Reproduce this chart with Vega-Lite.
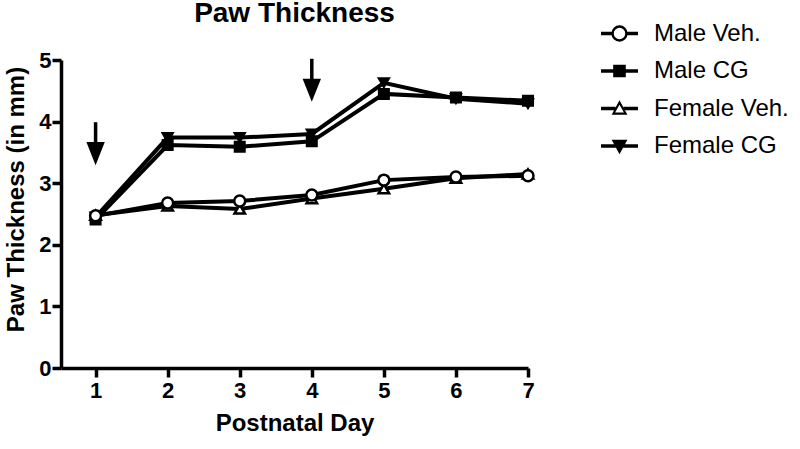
{
  "$schema": "https://vega.github.io/schema/vega-lite/v6.json",
  "width": 467,
  "height": 308,
  "autosize": {"type": "none"},
  "padding": {"left": 61, "top": 60, "right": 272, "bottom": 81},
  "background": "white",
  "config": {
    "view": {"stroke": null},
    "font": "Liberation Sans",
    "axis": {
      "domainColor": "black", "domainWidth": 3.5, "tickColor": "black", "tickWidth": 3.5,
      "tickSize": 9, "labelFont": "Liberation Sans", "labelFontWeight": "bold", "labelFontSize": 22,
      "labelColor": "black", "titleFont": "Liberation Sans", "titleFontWeight": "bold",
      "titleFontSize": 24, "titleColor": "black", "grid": false, "format": "d"
    }
  },
  "title": {"text": "Paw Thickness", "fontSize": 28, "fontWeight": "bold", "font": "Liberation Sans", "color": "black", "anchor": "middle", "offset": -14},
  "datasets": {
    "series": [
      {"day": 1, "series": "Male Veh.", "value": 2.47},
      {"day": 2, "series": "Male Veh.", "value": 2.68},
      {"day": 3, "series": "Male Veh.", "value": 2.71},
      {"day": 4, "series": "Male Veh.", "value": 2.81},
      {"day": 5, "series": "Male Veh.", "value": 3.05},
      {"day": 6, "series": "Male Veh.", "value": 3.10},
      {"day": 7, "series": "Male Veh.", "value": 3.12},
      {"day": 1, "series": "Male CG", "value": 2.41},
      {"day": 2, "series": "Male CG", "value": 3.62},
      {"day": 3, "series": "Male CG", "value": 3.59},
      {"day": 4, "series": "Male CG", "value": 3.68},
      {"day": 5, "series": "Male CG", "value": 4.45},
      {"day": 6, "series": "Male CG", "value": 4.39},
      {"day": 7, "series": "Male CG", "value": 4.34},
      {"day": 1, "series": "Female Veh.", "value": 2.48},
      {"day": 2, "series": "Female Veh.", "value": 2.63},
      {"day": 3, "series": "Female Veh.", "value": 2.58},
      {"day": 4, "series": "Female Veh.", "value": 2.75},
      {"day": 5, "series": "Female Veh.", "value": 2.91},
      {"day": 6, "series": "Female Veh.", "value": 3.08},
      {"day": 7, "series": "Female Veh.", "value": 3.15},
      {"day": 1, "series": "Female CG", "value": 2.45},
      {"day": 2, "series": "Female CG", "value": 3.74},
      {"day": 3, "series": "Female CG", "value": 3.74},
      {"day": 4, "series": "Female CG", "value": 3.80},
      {"day": 5, "series": "Female CG", "value": 4.63},
      {"day": 6, "series": "Female CG", "value": 4.37},
      {"day": 7, "series": "Female CG", "value": 4.29}
    ],
    "arrows": [
      {"day": 1, "top": 3.99, "head": 3.48, "shaftEnd": 3.55},
      {"day": 4, "top": 5.02, "head": 4.51, "shaftEnd": 4.58}
    ]
  },
  "encoding": {
    "x": {
      "field": "day", "type": "quantitative",
      "scale": {"domain": [0.52, 7], "nice": false, "zero": false},
      "axis": {"values": [1, 2, 3, 4, 5, 6, 7], "title": "Postnatal Day", "labelPadding": 3, "titlePadding": 10, "labelFlush": false}
    }
  },
  "layer": [
    {
      "data": {"name": "arrows"},
      "mark": {"type": "rule", "color": "black", "strokeWidth": 3.5},
      "encoding": {
        "y": {"field": "top", "type": "quantitative", "scale": {"domain": [0, 5], "nice": false},
          "axis": {"values": [0, 1, 2, 3, 4, 5], "title": "Paw Thickness (in mm)", "labelPadding": 1, "titlePadding": 10, "titleY": 139}},
        "y2": {"field": "shaftEnd"}
      }
    },
    {
      "data": {"name": "arrows"},
      "mark": {"type": "point", "shape": "M-0.8,-1L0.8,-1L0,1Z", "filled": true, "color": "black", "size": 530, "opacity": 1},
      "encoding": {"y": {"field": "head", "type": "quantitative"}}
    },
    {
      "data": {"name": "series"},
      "mark": {"type": "line", "color": "black", "strokeWidth": 4},
      "encoding": {"y": {"field": "value", "type": "quantitative"}, "detail": {"field": "series"}}
    },
    {
      "data": {"name": "series"},
      "transform": [{"filter": "datum.series === 'Male CG'"}],
      "mark": {"type": "point", "shape": "square", "fill": "black", "stroke": "black", "strokeWidth": 2, "size": 100, "opacity": 1},
      "encoding": {"y": {"field": "value", "type": "quantitative"}}
    },
    {
      "data": {"name": "series"},
      "transform": [{"filter": "datum.series === 'Female CG'"}],
      "mark": {"type": "point", "shape": "triangle-down", "fill": "black", "stroke": "black", "strokeWidth": 2, "size": 110, "opacity": 1},
      "encoding": {"y": {"field": "value", "type": "quantitative"}}
    },
    {
      "data": {"name": "series"},
      "transform": [{"filter": "datum.series === 'Female Veh.'"}],
      "mark": {"type": "point", "shape": "triangle-up", "fill": "white", "stroke": "black", "strokeWidth": 2.5, "size": 110, "opacity": 1},
      "encoding": {"y": {"field": "value", "type": "quantitative"}}
    },
    {
      "data": {"name": "series"},
      "transform": [{"filter": "datum.series === 'Male Veh.'"}],
      "mark": {"type": "point", "shape": "circle", "fill": "white", "stroke": "black", "strokeWidth": 2.5, "size": 120, "opacity": 1},
      "encoding": {"y": {"field": "value", "type": "quantitative"}}
    },
    {
      "data": {"name": "series"},
      "transform": [{"filter": "false"}],
      "mark": {"type": "point", "stroke": "black", "strokeWidth": 3.5, "opacity": 1, "filled": true},
      "encoding": {
        "y": {"field": "value", "type": "quantitative"},
        "shape": {
          "field": "series", "type": "nominal",
          "scale": {
            "domain": ["Male Veh.", "Male CG", "Female Veh.", "Female CG"],
            "range": [
              "M-1,-0.05H-0.4M-1,0H-0.4M-1,0.05H-0.4M0.4,-0.05H1M0.4,0H1M0.4,0.05H1M-0.4,0A0.4,0.4 0 1,0 0.4,0A0.4,0.4 0 1,0 -0.4,0ZM-0.35,0A0.35,0.35 0 1,0 0.35,0A0.35,0.35 0 1,0 -0.35,0Z",
              "M-1,-0.05H1M-1,0H1M-1,0.05H1M-0.3,-0.3H0.3V0.3H-0.3Z",
              "M-1,-0.05H-0.22M-1,0H-0.22M-1,0.05H-0.22M0.22,-0.05H1M0.22,0H1M0.22,0.05H1M-0.36,0.3L0,-0.36L0.36,0.3ZM-0.31,0.26L0,-0.29L0.31,0.26Z",
              "M-1,-0.05H1M-1,0H1M-1,0.05H1M-0.36,-0.3L0,0.36L0.36,-0.3Z"
            ]
          },
          "legend": {
            "title": null, "orient": "none", "legendX": 539, "legendY": -46, "padding": 0,
            "symbolSize": 1369, "rowPadding": 5.5, "labelOffset": 15, "labelFontSize": 24,
            "labelFont": "Liberation Sans", "labelColor": "black", "labelLimit": 300,
            "encode": {
              "symbols": {
                "update": {
                  "size": {"value": 1369},
                  "fill": {"signal": "datum.value === 'Male Veh.' || datum.value === 'Female Veh.' ? 'white' : 'black'"},
                  "stroke": {"value": "black"},
                  "strokeWidth": {"value": 3.5},
                  "opacity": {"value": 1}
                }
              }
            }
          }
        },
        "fill": {
          "field": "series", "type": "nominal",
          "scale": {"domain": ["Male Veh.", "Male CG", "Female Veh.", "Female CG"], "range": ["white", "black", "white", "black"]},
          "legend": null
        }
      }
    }
  ]
}
